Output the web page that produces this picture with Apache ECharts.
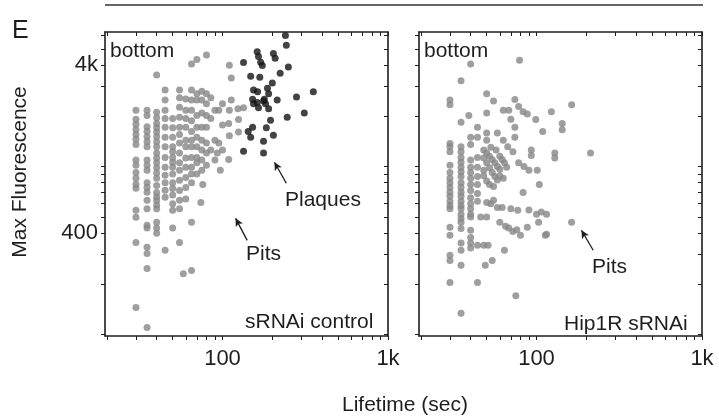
<!DOCTYPE html>
<html>
<head>
<meta charset="utf-8">
<script src="https://cdn.jsdelivr.net/npm/echarts@6/dist/echarts.min.js"></script>
<style>
html, body { margin: 0; padding: 0; background: #fff; }
#chart { width: 719px; height: 419px; }
</style>
</head>
<body>
<div id="chart"></div>
<script>
// [lifetime (sec), max fluorescence]
var controlPits = [
  [30,2160],[30,1910],[30,1780],[30,1660],[30,1550],[30,1450],[30,1350],[30,1090],[30,1015],[30,920],[30,850],[30,783],[30,741],[30,548],[30,498],[30,353],[30,145],
  [35,2160],[35,2010],[35,1720],[35,1610],[35,1500],[35,1400],[35,1310],[35,1090],[35,1015],[35,950],[35,800],[35,750],[35,702],[35,629],[35,560],[35,446],[35,430],[35,330],[35,303],[35,247],[35,110],
  [40,3500],[40,2100],[40,1950],[40,1800],[40,1700],[40,1600],[40,1500],[40,1400],[40,1310],[40,1200],[40,1120],[40,1050],[40,980],[40,915],[40,850],[40,770],[40,700],[40,660],[40,629],[40,590],[40,560],[40,465],[40,430],[40,400],
  [45,2850],[45,2480],[45,2160],[45,1930],[45,1710],[45,1490],[45,1310],[45,1130],[45,990],[45,885],[45,800],[45,722],[45,656],[45,317],
  [50,1930],[50,1700],[50,1490],[50,1310],[50,1220],[50,1130],[50,1060],[50,990],[50,900],[50,800],[50,740],[50,675],[50,600],[50,548],[50,430],
  [55,2850],[55,2560],[55,2250],[55,1960],[55,1710],[55,1550],[55,1380],[55,1200],[55,1050],[55,950],[55,827],[55,720],[55,629],[55,560],[55,353],
  [60,2520],[60,2160],[60,1930],[60,1710],[60,1430],[60,1310],[60,1120],[60,990],[60,860],[60,750],[60,640],[58,230],
  [65,4070],[65,2850],[65,2480],[65,2160],[65,1870],[65,1610],[65,1430],[65,1310],[65,1130],[65,990],[65,900],[65,800],[65,465],[65,240],
  [70,4330],[70,2700],[70,2480],[70,2010],[70,1710],[70,1490],[70,1310],[70,1130],[70,1050],[70,900],
  [75,2800],[75,2480],[75,2080],[75,1710],[75,1430],[75,1250],[75,1090],[75,950],[74,610],[76,780],
  [80,4600],[80,2700],[80,2360],[80,2010],[80,1710],[80,1380],[80,1200],[80,1015],
  [85,2560],[85,1930],[85,1250],[90,2160],[90,1430],[90,1090],[95,2160],[95,1380],[93,1200],
  [100,2360],[100,1760],[100,1250],[97,950],
  [110,4000],[110,2160],[110,1520],[109,1800],[109,1100],
  [113,3350],[113,2480],[125,1900],[124,2200],[125,1600],[134,2230]
];
var controlPlaques = [
  [240,6000],[243,5260],[162,4800],[165,4500],[170,4160],[174,3980],[203,4700],[208,4400],[134,4150],[250,3900],
  [223,3580],[148,3440],[168,3390],[200,3130],[154,2850],[163,2780],[187,2920],[190,2700],[354,2780],[280,2590],
  [214,2480],[152,2510],[154,2360],[179,2510],[182,2360],[165,2230],[190,2200],[312,2080],[246,1960],[195,1880],
  [152,1710],[143,1610],[184,1700],[148,1490],[203,1530],[177,1410],[134,1230],[177,1200],[177,2450],[162,2400]
];
var hip1rPits = [
  [40,4070],[79,4280],[35,3230],[30,2480],[30,2330],[50,2700],[55,2450],[74,2500],[63,2160],[68,2160],[78,2270],[83,2110],[88,2050],[99,1900],[123,2110],[163,2330],[39,2010],[50,2080],[35,1830],[44,1710],[70,1910],[74,1710],[143,1800],[143,1650],[109,1610],
  [30,1370],[30,1310],[30,1220],[35,1310],[35,1220],[40,1490],[40,1350],[44,1490],[50,1580],[50,1430],[58,1580],[63,1430],[67,1310],[72,1220],[74,1490],[93,1250],[93,1160],[129,1200],[129,1120],[212,1200],
  [30,1015],[30,920],[30,850],[30,800],[30,750],[30,702],[30,665],[30,620],[30,585],[30,560],[30,435],[30,390],[30,296],[30,276],[30,204],
  [35,1130],[35,1060],[35,990],[35,930],[35,870],[35,800],[35,750],[35,702],[35,665],[35,620],[35,585],[35,560],[35,520],[35,490],[35,465],[35,427],[35,350],[35,317],[35,258],[35,134],
  [40,1090],[40,990],[40,920],[40,850],[40,780],[40,720],[40,650],[40,600],[40,560],[40,520],[40,500],[40,417],[40,378],[40,350],[40,327],
  [44,1130],[44,990],[44,870],[44,780],[44,690],[44,620],[44,340],[44,204],
  [48,1250],[50,1200],[52,1150],[54,1100],[56,1050],[58,1000],[60,960],[50,1050],[52,980],[54,920],[56,870],[58,830],[48,950],[48,880],[50,820],[52,780],[55,760],[60,1150],[62,1100],[64,1050],[66,990],[60,880],[63,850],[53,1300],[57,1250],[48,1120],
  [78,1050],[84,1000],[90,950],[101,950],[104,780],[83,700],
  [46,500],[50,500],[48,340],[51,340],[50,610],[55,630],[53,600],[58,570],[62,570],[60,465],[65,440],[68,430],[72,410],[76,420],[80,390],[70,560],[77,548],[90,550],[100,520],[107,535],[115,520],[103,465],[88,435],[113,389],[64,317],[49,258],[54,276],[75,170],[163,465],[115,395]
];

var xLabelValues = [100, 1000];
var yLabelValues = [400, 4000];
var xTickValues = [20,30,40,50,60,70,80,90,100,200,300,400,500,600,700,800,900,1000];
var yTickValues = [100,200,300,400,500,600,700,800,900,1000,2000,3000,4000,5000,6000];

// annotation arrows [tail, head]
var plaquesArrow = [[243, 794], [206, 1058]];
var pitsArrowLeft = [[141, 363], [120, 491]];
var pitsArrowRight = [[220, 317], [187, 417]];

var font = "'Liberation Sans', Arial, sans-serif";
var ink = '#1e1e1e';

function kFormat(v) {
  return v >= 1000 ? (v / 1000) + 'k' : String(v);
}

function xAxisFor(grid, pos) {
  var bottom = pos === 'bottom';
  return {
    type: 'log', gridIndex: grid, position: pos, min: 19.5, max: 1000,
    axisLine: { onZero: false, lineStyle: { color: ink, width: 1.6 } },
    axisTick: { show: true, inside: !bottom, length: 4, customValues: xTickValues, lineStyle: { color: ink, width: 1 } },
    axisLabel: { show: bottom, customValues: xLabelValues, formatter: kFormat, margin: 12,
      fontSize: 22, color: ink, fontFamily: font },
    splitLine: { show: false }
  };
}

function yAxisFor(grid, pos, showLabel) {
  var left = pos === 'left';
  return {
    type: 'log', gridIndex: grid, position: pos, min: 98, max: 6300,
    axisLine: { onZero: false, lineStyle: { color: ink, width: 1.6 } },
    axisTick: { show: true, inside: !left, length: 4, customValues: yTickValues, lineStyle: { color: ink, width: 1 } },
    axisLabel: { show: showLabel, customValues: yLabelValues, formatter: kFormat, margin: 7,
      fontSize: 22, color: ink, fontFamily: font },
    splitLine: { show: false }
  };
}

function arrowLine(pair) {
  return [
    { coord: pair[0], symbol: 'none' },
    { coord: pair[1], symbol: 'arrow', symbolSize: [6, 8] }
  ];
}

function arrows(list) {
  return {
    silent: true, animation: false,
    label: { show: false },
    lineStyle: { color: ink, width: 1.3, type: 'solid' },
    data: list.map(arrowLine)
  };
}

function text(str, x, y) {
  return {
    type: 'text', left: x, top: y,
    style: { text: str, fill: ink, font: '21px ' + font }
  };
}

var chart = echarts.init(document.getElementById('chart'));
chart.setOption({
  animation: false,
  backgroundColor: '#fff',
  grid: [
    { left: 105, top: 32, width: 283, height: 304 },
    { left: 419, top: 32, width: 283, height: 304 }
  ],
  xAxis: [xAxisFor(0, 'bottom'), xAxisFor(0, 'top'), xAxisFor(1, 'bottom'), xAxisFor(1, 'top')],
  yAxis: [yAxisFor(0, 'left', true), yAxisFor(0, 'right', false), yAxisFor(1, 'left', false), yAxisFor(1, 'right', false)],
  series: [
    {
      name: 'Pits', type: 'scatter', xAxisIndex: 0, yAxisIndex: 0,
      symbolSize: 7, itemStyle: { color: '#878787' }, data: controlPits,
      markLine: arrows([pitsArrowLeft])
    },
    {
      name: 'Plaques', type: 'scatter', xAxisIndex: 0, yAxisIndex: 0,
      symbolSize: 7, itemStyle: { color: '#141414' }, data: controlPlaques,
      markLine: arrows([plaquesArrow])
    },
    {
      name: 'Hip1R Pits', type: 'scatter', xAxisIndex: 2, yAxisIndex: 2,
      symbolSize: 7, itemStyle: { color: '#878787' }, data: hip1rPits,
      markLine: arrows([pitsArrowRight])
    }
  ],
  graphic: [
    { type: 'line', shape: { x1: 105, y1: 5, x2: 703, y2: 5 }, style: { stroke: '#333', lineWidth: 1.5 } },
    { type: 'text', left: 12, top: 19, style: { text: 'E', fill: ink, font: '25px ' + font } },
    { type: 'text', x: 20, y: 172, rotation: Math.PI / 2,
      style: { text: 'Max Fluorescence', fill: ink, font: '21px ' + font, textAlign: 'center', textVerticalAlign: 'middle' } },
    text('Lifetime (sec)', 342, 395),
    text('bottom', 110, 41),
    text('bottom', 424, 41),
    text('sRNAi control', 245, 312),
    text('Hip1R sRNAi', 564, 314),
    text('Plaques', 285, 190),
    text('Pits', 246, 244),
    text('Pits', 592, 257)
  ]
});
</script>
</body>
</html>
